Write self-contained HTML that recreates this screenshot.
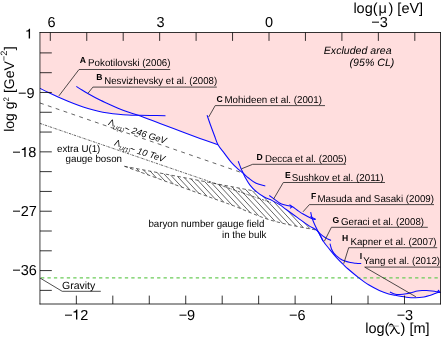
<!DOCTYPE html>
<html><head><meta charset="utf-8"><title>chart</title>
<style>
html,body{margin:0;padding:0;background:#fff;}
body{width:447px;height:338px;overflow:hidden;}
svg{display:block;font-family:"Liberation Sans",sans-serif;text-rendering:geometricPrecision;}
</style></head>
<body>
<svg width="447" height="338" viewBox="0 0 447 338">
<rect x="0" y="0" width="447" height="338" fill="#fff"/>
<rect x="40.0" y="32.5" width="400.50" height="271.50" fill="#ffdede"/>
<polygon points="40.0,88.4 49.0,92.8 58.1,97.0 68.0,101.2 78.3,105.2 88.0,108.4 98.4,111.2 108.0,113.0 118.5,114.3 128.0,115.0 138.2,115.3 160.0,123.5 180.0,131.0 200.0,138.4 218.0,144.8 224.4,153.4 231.5,162.6 238.4,169.3 243.2,173.2 245.2,177.4 250.0,185.1 256.3,191.6 264.2,197.0 272.2,200.6 280.0,204.9 286.2,209.5 297.5,217.6 308.7,225.6 317.7,231.2 323.1,241.0 329.8,249.6 336.5,257.6 343.3,264.5 348.1,269.0 359.2,278.1 368.6,284.8 379.3,290.4 388.7,293.9 395.0,295.3 406.3,297.2 415.7,297.8 424.0,297.0 429.8,295.5 435.0,293.5 438.0,292.5 440.5,292.3 440.5,304.0 40.0,304.0" fill="#fff"/>
<defs><filter id="noaa" x="0" y="0" width="447" height="338" filterUnits="userSpaceOnUse"><feOffset dx="0" dy="0"/></filter><clipPath id="hc"><polygon points="124.5,166.3 256.5,191.4 264.2,197.0 272.2,200.6 280.0,204.9 286.2,209.5 297.5,217.6 308.7,225.6 316.0,230.0 297.8,226.5 282.1,223.2 266.4,218.8 250.7,212.8 235.0,206.3 218.4,200.3 171.5,183.4"/></clipPath></defs>
<g clip-path="url(#hc)" stroke="#222" stroke-width="0.7" fill="none">
<line x1="44.7" y1="160" x2="118.8" y2="240"/>
<line x1="50.3" y1="160" x2="124.4" y2="240"/>
<line x1="55.9" y1="160" x2="130.0" y2="240"/>
<line x1="61.5" y1="160" x2="135.6" y2="240"/>
<line x1="67.1" y1="160" x2="141.2" y2="240"/>
<line x1="72.7" y1="160" x2="146.8" y2="240"/>
<line x1="78.3" y1="160" x2="152.4" y2="240"/>
<line x1="83.9" y1="160" x2="158.0" y2="240"/>
<line x1="89.5" y1="160" x2="163.6" y2="240"/>
<line x1="95.1" y1="160" x2="169.2" y2="240"/>
<line x1="100.7" y1="160" x2="174.8" y2="240"/>
<line x1="106.3" y1="160" x2="180.4" y2="240"/>
<line x1="111.9" y1="160" x2="186.0" y2="240"/>
<line x1="117.5" y1="160" x2="191.6" y2="240"/>
<line x1="123.1" y1="160" x2="197.2" y2="240"/>
<line x1="128.7" y1="160" x2="202.8" y2="240"/>
<line x1="134.3" y1="160" x2="208.4" y2="240"/>
<line x1="139.9" y1="160" x2="214.0" y2="240"/>
<line x1="145.5" y1="160" x2="219.6" y2="240"/>
<line x1="151.1" y1="160" x2="225.2" y2="240"/>
<line x1="156.7" y1="160" x2="230.8" y2="240"/>
<line x1="162.3" y1="160" x2="236.4" y2="240"/>
<line x1="167.9" y1="160" x2="242.0" y2="240"/>
<line x1="173.5" y1="160" x2="247.6" y2="240"/>
<line x1="179.1" y1="160" x2="253.2" y2="240"/>
<line x1="184.7" y1="160" x2="258.8" y2="240"/>
<line x1="190.3" y1="160" x2="264.4" y2="240"/>
<line x1="195.9" y1="160" x2="270.0" y2="240"/>
<line x1="201.5" y1="160" x2="275.6" y2="240"/>
<line x1="207.1" y1="160" x2="281.2" y2="240"/>
<line x1="212.7" y1="160" x2="286.8" y2="240"/>
<line x1="218.3" y1="160" x2="292.4" y2="240"/>
<line x1="223.9" y1="160" x2="298.0" y2="240"/>
<line x1="229.5" y1="160" x2="303.6" y2="240"/>
<line x1="235.1" y1="160" x2="309.2" y2="240"/>
<line x1="240.7" y1="160" x2="314.8" y2="240"/>
<line x1="246.3" y1="160" x2="320.4" y2="240"/>
<line x1="251.9" y1="160" x2="326.0" y2="240"/>
<line x1="257.5" y1="160" x2="331.6" y2="240"/>
<line x1="263.1" y1="160" x2="337.2" y2="240"/>
<line x1="268.7" y1="160" x2="342.8" y2="240"/>
<line x1="274.3" y1="160" x2="348.4" y2="240"/>
<line x1="279.9" y1="160" x2="354.0" y2="240"/>
<line x1="285.5" y1="160" x2="359.6" y2="240"/>
<line x1="291.1" y1="160" x2="365.2" y2="240"/>
<line x1="296.7" y1="160" x2="370.8" y2="240"/>
</g>
<g fill="none" stroke="#222" stroke-width="0.7">
<line x1="40.0" y1="103.0" x2="243" y2="173.1" stroke-dasharray="3.9 4.4"/>
<line x1="40.0" y1="123.4" x2="271" y2="202.6" stroke-dasharray="2.4 1.0 0.7 1.0"/>
<polyline points="124.5,166.3 256.5,191.4" stroke-dasharray="3.4 2.6"/>
<path d="M124.50,166.30 C132.33,169.15 155.85,177.73 171.50,183.40 C187.15,189.07 207.82,196.48 218.40,200.30 C228.98,204.12 229.62,204.22 235.00,206.30 C240.38,208.38 245.47,210.72 250.70,212.80 C255.93,214.88 261.17,217.07 266.40,218.80 C271.63,220.53 276.87,221.92 282.10,223.20 C287.33,224.48 292.15,225.37 297.80,226.50 C303.45,227.63 312.97,229.42 316.00,230.00" stroke-dasharray="3.4 2.6"/>
</g>
<line x1="41.0" y1="277.9" x2="440.5" y2="277.9" stroke="#6bcb58" stroke-width="1.35" stroke-dasharray="3.3 3.15"/>
<g fill="none" stroke="#0a0aff" stroke-width="1.05" stroke-linejoin="round">
<path d="M40.00,88.40 C41.50,89.13 45.98,91.37 49.00,92.80 C52.02,94.23 54.93,95.60 58.10,97.00 C61.27,98.40 64.63,99.83 68.00,101.20 C71.37,102.57 74.97,104.00 78.30,105.20 C81.63,106.40 84.65,107.40 88.00,108.40 C91.35,109.40 95.07,110.43 98.40,111.20 C101.73,111.97 104.65,112.48 108.00,113.00 C111.35,113.52 115.17,113.97 118.50,114.30 C121.83,114.63 124.72,114.83 128.00,115.00 C131.28,115.17 134.53,115.22 138.20,115.30 C141.87,115.38 145.45,115.43 150.00,115.50 C154.55,115.57 162.92,115.67 165.50,115.70"/>
<path d="M76.30,86.40 C77.25,87.00 80.00,88.78 82.00,90.00 C84.00,91.22 85.63,92.20 88.30,93.70 C90.97,95.20 94.63,97.28 98.00,99.00 C101.37,100.72 105.17,102.47 108.50,104.00 C111.83,105.53 114.75,106.87 118.00,108.20 C121.25,109.53 124.63,110.82 128.00,112.00 C131.37,113.18 132.87,113.38 138.20,115.30 C143.53,117.22 153.03,120.88 160.00,123.50 C166.97,126.12 173.33,128.52 180.00,131.00 C186.67,133.48 193.67,136.10 200.00,138.40 C206.33,140.70 215.00,143.73 218.00,144.80"/>
<path d="M207.10,115.20 C207.65,116.80 209.18,121.42 210.40,124.80 C211.62,128.18 213.13,132.17 214.40,135.50 C215.67,138.83 216.33,141.82 218.00,144.80 C219.67,147.78 222.15,150.43 224.40,153.40 C226.65,156.37 229.17,159.95 231.50,162.60 C233.83,165.25 236.45,167.53 238.40,169.30 C240.35,171.07 241.52,171.75 243.20,173.20 C244.88,174.65 246.35,176.32 248.50,178.00 C250.65,179.68 253.30,181.97 256.10,183.30 C258.90,184.63 263.77,185.55 265.30,186.00"/>
<path d="M238.20,161.30 C238.65,162.45 240.07,166.22 240.90,168.20 C241.73,170.18 242.48,171.67 243.20,173.20 C243.92,174.73 244.07,175.42 245.20,177.40 C246.33,179.38 248.15,182.73 250.00,185.10 C251.85,187.47 253.93,189.62 256.30,191.60 C258.67,193.58 261.55,195.50 264.20,197.00 C266.85,198.50 269.57,199.28 272.20,200.60 C274.83,201.92 277.67,203.42 280.00,204.90 C282.33,206.38 283.28,207.38 286.20,209.50 C289.12,211.62 293.75,214.92 297.50,217.60 C301.25,220.28 305.33,223.33 308.70,225.60 C312.07,227.87 315.30,228.63 317.70,231.20 C320.10,233.77 321.08,237.93 323.10,241.00 C325.12,244.07 327.57,246.83 329.80,249.60 C332.03,252.37 334.25,255.12 336.50,257.60 C338.75,260.08 341.37,262.60 343.30,264.50 C345.23,266.40 345.45,266.73 348.10,269.00 C350.75,271.27 355.78,275.47 359.20,278.10 C362.62,280.73 365.25,282.75 368.60,284.80 C371.95,286.85 375.95,288.88 379.30,290.40 C382.65,291.92 386.08,293.08 388.70,293.90 C391.32,294.72 392.07,294.75 395.00,295.30 C397.93,295.85 402.85,296.78 406.30,297.20 C409.75,297.62 412.75,297.83 415.70,297.80 C418.65,297.77 421.65,297.38 424.00,297.00 C426.35,296.62 427.97,296.08 429.80,295.50 C431.63,294.92 433.63,294.00 435.00,293.50 C436.37,293.00 437.08,292.70 438.00,292.50 C438.92,292.30 440.08,292.33 440.50,292.30"/>
<path d="M269.30,195.50 C270.23,196.18 273.20,198.35 274.90,199.60 C276.60,200.85 277.98,202.13 279.50,203.00 C281.02,203.87 281.93,204.22 284.00,204.80 C286.07,205.38 289.73,205.63 291.90,206.50 C294.07,207.37 295.13,208.75 297.00,210.00 C298.87,211.25 300.58,212.55 303.10,214.00 C305.62,215.45 310.02,217.77 312.10,218.70 C314.18,219.63 315.02,219.45 315.60,219.60"/>
<path d="M310.70,212.20 C310.93,213.20 311.50,216.27 312.10,218.20 C312.70,220.13 313.37,221.70 314.30,223.80 C315.23,225.90 316.63,228.70 317.70,230.80 C318.77,232.90 319.80,234.70 320.70,236.40 C321.60,238.10 322.70,240.23 323.10,241.00"/>
<path d="M317.50,231.00 C317.92,231.43 319.02,232.70 320.00,233.60 C320.98,234.50 322.23,235.57 323.40,236.40 C324.57,237.23 325.73,237.93 327.00,238.60 C328.27,239.27 330.33,240.10 331.00,240.40"/>
<path d="M330.00,243.60 C330.25,244.50 330.83,247.37 331.50,249.00 C332.17,250.63 333.12,252.20 334.00,253.40 C334.88,254.60 335.80,255.33 336.80,256.20 C337.80,257.07 338.87,257.87 340.00,258.60 C341.13,259.33 341.88,259.93 343.60,260.60 C345.32,261.27 348.23,262.15 350.30,262.60 C352.37,263.05 354.18,263.13 356.00,263.30 C357.82,263.47 360.33,263.55 361.20,263.60"/>
<path d="M389.90,292.00 C390.82,292.37 393.72,293.78 395.40,294.20 C397.08,294.62 398.18,294.57 400.00,294.50 C401.82,294.43 404.30,294.15 406.30,293.80 C408.30,293.45 410.17,292.85 412.00,292.40 C413.83,291.95 415.63,291.40 417.30,291.10 C418.97,290.80 420.43,290.68 422.00,290.60 C423.57,290.52 425.03,290.52 426.70,290.60 C428.37,290.68 430.18,290.88 432.00,291.10 C433.82,291.32 436.18,291.68 437.60,291.90 C439.02,292.12 440.02,292.32 440.50,292.40"/>
<path d="M289.5,204.6 L292.2,206.6 L290,208.3"/>
<path d="M310.2,216.6 L315.6,219.3"/>
<path d="M437.4,292 L438.6,290.2 L439.6,292.4"/>
</g>
<g fill="none" stroke="#222" stroke-width="0.8">
<polyline points="58.9,95.9 79.0,69.5 170.2,69.5"/>
<polyline points="87.9,93.4 92.9,87.1 216.8,87.1"/>
<polyline points="208.7,117.0 215.2,105.6 325.0,105.6"/>
<polyline points="241.5,168.8 252.7,164.3 345.9,164.3"/>
<polyline points="273.5,199.2 283.3,182.5 385.0,182.5"/>
<polyline points="303.0,211.8 309.4,204.6 434.0,204.6"/>
<polyline points="324.4,241.2 331.4,227.3 427.8,227.3"/>
<polyline points="343.7,263.7 348.7,247.7 437.2,247.7"/>
<polyline points="415.9,296.8 364.7,267.1 440.4,267.1"/>
<polyline points="40.0,278.0 62.2,291.3 100.8,291.3"/>
</g>
<g fill="none" stroke="#000" stroke-width="0.8">
<line x1="39.95" y1="32.1" x2="39.95" y2="304.4" stroke-width="0.75"/>
<line x1="440.5" y1="32.1" x2="440.5" y2="304.4"/>
<line x1="39.6" y1="32.5" x2="440.9" y2="32.5"/>
<line x1="39.6" y1="304.0" x2="440.9" y2="304.0"/>
</g>
<g stroke="#000" stroke-width="0.8">
<line x1="40.0" y1="52.90" x2="51.8" y2="52.90"/>
<line x1="40.0" y1="72.69" x2="51.8" y2="72.69"/>
<line x1="40.0" y1="92.48" x2="51.8" y2="92.48"/>
<line x1="40.0" y1="112.27" x2="51.8" y2="112.27"/>
<line x1="40.0" y1="132.06" x2="51.8" y2="132.06"/>
<line x1="40.0" y1="151.85" x2="51.8" y2="151.85"/>
<line x1="40.0" y1="171.64" x2="51.8" y2="171.64"/>
<line x1="40.0" y1="191.43" x2="51.8" y2="191.43"/>
<line x1="40.0" y1="211.22" x2="51.8" y2="211.22"/>
<line x1="40.0" y1="231.01" x2="51.8" y2="231.01"/>
<line x1="40.0" y1="250.80" x2="51.8" y2="250.80"/>
<line x1="40.0" y1="270.59" x2="51.8" y2="270.59"/>
<line x1="40.0" y1="290.38" x2="51.8" y2="290.38"/>
<line x1="76.35" y1="304.0" x2="76.35" y2="295.6"/>
<line x1="112.81" y1="304.0" x2="112.81" y2="295.6"/>
<line x1="149.27" y1="304.0" x2="149.27" y2="295.6"/>
<line x1="185.73" y1="304.0" x2="185.73" y2="295.6"/>
<line x1="222.19" y1="304.0" x2="222.19" y2="295.6"/>
<line x1="258.65" y1="304.0" x2="258.65" y2="295.6"/>
<line x1="295.11" y1="304.0" x2="295.11" y2="295.6"/>
<line x1="331.57" y1="304.0" x2="331.57" y2="295.6"/>
<line x1="368.03" y1="304.0" x2="368.03" y2="295.6"/>
<line x1="404.49" y1="304.0" x2="404.49" y2="295.6"/>
<line x1="50.30" y1="32.5" x2="50.30" y2="40.9"/>
<line x1="86.75" y1="32.5" x2="86.75" y2="40.9"/>
<line x1="123.20" y1="32.5" x2="123.20" y2="40.9"/>
<line x1="159.65" y1="32.5" x2="159.65" y2="40.9"/>
<line x1="196.10" y1="32.5" x2="196.10" y2="40.9"/>
<line x1="232.55" y1="32.5" x2="232.55" y2="40.9"/>
<line x1="269.00" y1="32.5" x2="269.00" y2="40.9"/>
<line x1="305.45" y1="32.5" x2="305.45" y2="40.9"/>
<line x1="341.90" y1="32.5" x2="341.90" y2="40.9"/>
<line x1="378.35" y1="32.5" x2="378.35" y2="40.9"/>
<line x1="414.80" y1="32.5" x2="414.80" y2="40.9"/>
</g>
<g fill="#000" filter="url(#noaa)">
<text x="79.7" y="63.1" font-size="8.6" font-weight="bold">A</text><text transform="translate(88.1,65.9) scale(0.975,1)" font-size="10">Pokotilovski (2006)</text>
<text x="96.3" y="80.0" font-size="8.6" font-weight="bold">B</text><text transform="translate(104.3,83.8) scale(0.962,1)" font-size="10">Nesvizhevsky et al. (2008)</text>
<text x="216.4" y="101.5" font-size="8.6" font-weight="bold">C</text><text transform="translate(224.4,103.3) scale(0.975,1)" font-size="10">Mohideen et al. (2001)</text>
<text x="256.4" y="160.4" font-size="8.6" font-weight="bold">D</text><text transform="translate(265.0,161.9) scale(0.966,1)" font-size="10">Decca et al. (2005)</text>
<text x="285.1" y="177.8" font-size="8.6" font-weight="bold">E</text><text transform="translate(291.7,181.0) scale(0.98,1)" font-size="10">Sushkov et al. (2011)</text>
<text x="311.1" y="198.9" font-size="8.6" font-weight="bold">F</text><text transform="translate(317.5,202.2) scale(0.975,1)" font-size="10">Masuda and Sasaki (2009)</text>
<text x="332.6" y="222.8" font-size="8.6" font-weight="bold">G</text><text transform="translate(341.0,224.8) scale(0.97,1)" font-size="10">Geraci et al. (2008)</text>
<text x="342.0" y="240.5" font-size="8.6" font-weight="bold">H</text><text transform="translate(350.4,244.9) scale(0.975,1)" font-size="10">Kapner et al. (2007)</text>
<text x="359.7" y="258.8" font-size="8.6" font-weight="bold">I</text><text transform="translate(363.3,264.1) scale(0.975,1)" font-size="10">Yang et al. (2012)</text>
<text x="62.0" y="289.1" font-size="10.5">Gravity</text>
<text transform="translate(57.0,152.4) scale(0.975,1)" font-size="10">extra U(1)</text>
<text transform="translate(65.6,161.8) scale(0.975,1)" font-size="10">gauge boson</text>
<text transform="translate(148.4,227.4) scale(0.975,1)" font-size="10">baryon number gauge field</text>
<text transform="translate(222.0,237.6) scale(0.975,1)" font-size="10">in the bulk</text>
<text x="323.8" y="54.4" font-size="10.6" font-style="italic">Excluded area</text>
<text x="349.6" y="65.9" font-size="10.6" font-style="italic">(95% CL)</text>
<g font-size="9.1" font-style="italic">
<g transform="translate(107.0,125.5) rotate(17.5)"><text x="0.4" y="-1.0" font-style="normal">Λ</text><text x="6.3" y="1.6" font-size="5.8">U(1)</text><text x="17.4" y="0">~ 246 GeV</text></g>
<g transform="translate(113.2,146.1) rotate(17.5)"><text x="0.4" y="-1.0" font-style="normal">Λ</text><text x="6.3" y="1.6" font-size="5.8">U(1)</text><text x="16.7" y="0">~ 10 TeV</text></g>
</g>
<g font-size="14.5">
<path d="M30.05,38.60 L30.05,28.65 L29.05,28.65 C28.70,29.90 27.80,30.55 26.20,30.65 L26.20,31.60 L28.70,31.60 L28.70,38.60 Z"/>
<text x="34.6" y="97.5" text-anchor="end">−9</text>
<text x="12.35" y="156.9">−</text><path d="M25.65,156.90 L25.65,146.95 L24.65,146.95 C24.30,148.20 23.40,148.85 21.80,148.95 L21.80,149.90 L24.30,149.90 L24.30,156.90 Z"/><text x="28.25" y="156.9">8</text>
<text x="36.8" y="216.1" text-anchor="end">−27</text>
<text x="36.8" y="275.4" text-anchor="end">−36</text>
<text x="64.35" y="319.5">−</text><path d="M77.35,319.50 L77.35,309.55 L76.35,309.55 C76.00,310.80 75.10,311.45 73.50,311.55 L73.50,312.50 L76.00,312.50 L76.00,319.50 Z"/><text x="80.2" y="319.5">2</text>
<text x="186.9" y="319.8" text-anchor="middle">−9</text>
<text x="297.2" y="319.8" text-anchor="middle">−6</text>
<text x="404.9" y="320.4" text-anchor="middle">−3</text>
<text x="51.5" y="26.9" text-anchor="middle">6</text>
<text x="160.5" y="26.9" text-anchor="middle">3</text>
<text x="269.0" y="26.9" text-anchor="middle">0</text>
<text x="379.6" y="26.9" text-anchor="middle">−3</text>
<text x="365.2" y="333.2" font-size="14.5">log(</text><text x="400.6" y="333.2" font-size="14.5">) [m]</text>
<g fill="none" stroke="#000" stroke-width="1.2" stroke-linecap="round"><path d="M389.6,325.3 C390.2,323.8 391.9,323.6 392.8,325.3 L396.9,332.2 C397.4,333.1 398.3,333.6 399.3,333.1"/><path d="M394.3,327.9 L390.6,333.5"/><path d="M388.6,326.1 L398.4,326.1" stroke="#999" stroke-width="0.9"/></g>
<text x="353.4" y="12.6" font-size="14.5">log(</text><text x="378.6" y="12.6" font-size="14.5">μ</text><text x="388.5" y="12.6" font-size="14.5">) [eV]</text>
<text font-size="14" transform="translate(14.4,131.8) rotate(-90)">log g<tspan font-size="8" dy="-5">2</tspan><tspan dy="5"> [GeV</tspan><tspan font-size="9.2" dy="-7.6">−2</tspan><tspan dy="7.6" dx="0.5">]</tspan></text>
</g>
</g>
</svg>
</body></html>
